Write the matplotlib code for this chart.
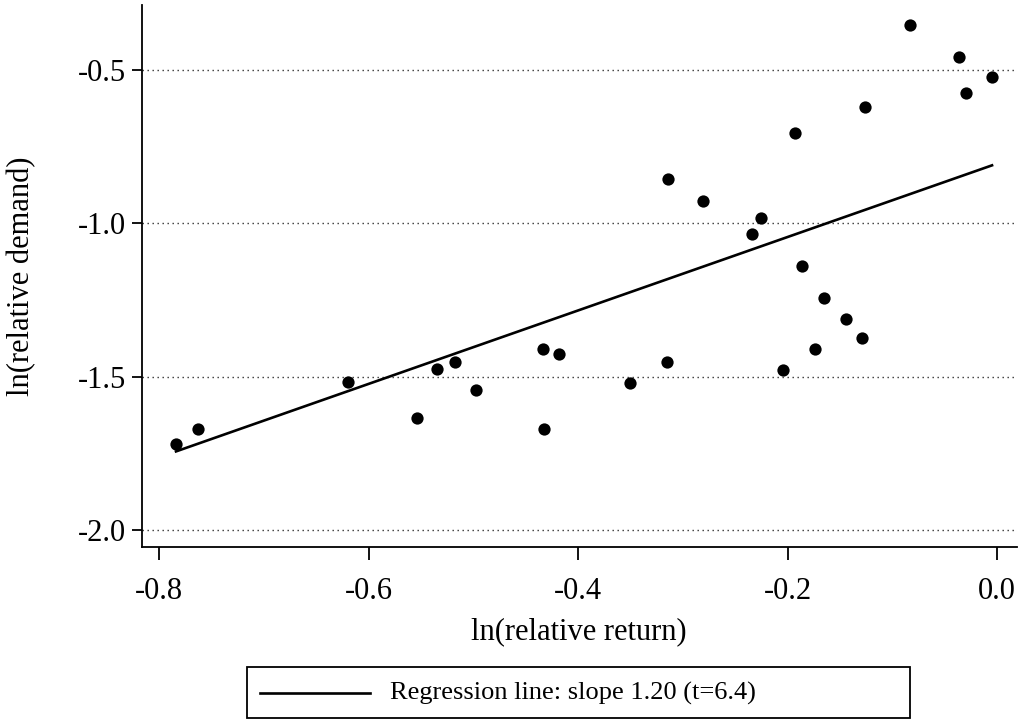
import numpy as np
import matplotlib
matplotlib.use('Agg')
import matplotlib.pyplot as plt
from matplotlib.lines import Line2D
from matplotlib.patches import Rectangle

# ln(relative return) vs ln(relative demand)
rel_return = [-0.784, -0.763, -0.620, -0.554, -0.535, -0.518, -0.498, -0.434,
              -0.418, -0.433, -0.351, -0.315, -0.314, -0.281, -0.234, -0.226,
              -0.205, -0.193, -0.186, -0.174, -0.165, -0.144, -0.129, -0.126,
              -0.083, -0.037, -0.030, -0.005]
rel_demand = [-1.719, -1.670, -1.517, -1.636, -1.474, -1.454, -1.545, -1.409,
              -1.428, -1.672, -1.522, -1.454, -0.856, -0.927, -1.036, -0.982,
              -1.480, -0.705, -1.139, -1.409, -1.243, -1.313, -1.375, -0.620,
              -0.352, -0.457, -0.574, -0.522]
# regression line as drawn in the chart (slope from the legend)
reg_slope = 1.20
reg_intercept = -0.804
x_ticks = [-0.8, -0.6, -0.4, -0.2, 0.0]
y_ticks = [-2.0, -1.5, -1.0, -0.5]
legend_label = 'Regression line: slope 1.20 (t=6.4)'

plt.rcParams['font.family'] = ['Liberation Serif', 'DejaVu Serif']

x = np.array(rel_return)
y = np.array(rel_demand)
xs = np.array([x.min(), x.max()])

fig = plt.figure(figsize=(10.19, 7.22), dpi=100)
ax = fig.add_axes([0.139, 0.2417, 0.8587, 0.7513])

for v in y_ticks:
    ax.axhline(v, color='#333333', linestyle=(0, (1, 2.6)), linewidth=1.0, zorder=1)

ax.scatter(x, y, s=78, color='black', zorder=3, linewidths=0)
ax.plot(xs, reg_intercept + reg_slope * xs, color='black', linewidth=1.9, zorder=2)

ax.set_xlim(-0.8168, 0.0185)
ax.set_ylim(-2.0587, -0.2863)
ax.set_xticks(x_ticks)
ax.set_xticklabels([f'{v:.1f}' for v in x_ticks])
ax.set_yticks(y_ticks)
ax.set_yticklabels([f'{v:.1f}' for v in y_ticks])

for side in ['top', 'right']:
    ax.spines[side].set_visible(False)
for side in ['left', 'bottom']:
    ax.spines[side].set_linewidth(1.3)

ax.tick_params(axis='x', direction='out', length=9, width=1.3, pad=12, labelsize=22)
ax.tick_params(axis='y', direction='out', length=7, width=1.3, pad=4, labelsize=22)

ax.set_xlabel('ln(relative return)', fontsize=22)
ax.set_ylabel('ln(relative demand)', fontsize=22)
ax.xaxis.set_label_coords(0.5, -0.128)
ax.yaxis.set_label_coords(-0.12, 0.5)

# legend box under the plot
fig.patches.append(Rectangle((247 / 1019, 1 - 718 / 722), 663 / 1019, 51 / 722,
                             transform=fig.transFigure, fill=False,
                             edgecolor='black', linewidth=1.3))
fig.lines.append(Line2D([260 / 1019, 370 / 1019], [1 - 693 / 722, 1 - 693 / 722],
                        transform=fig.transFigure, color='black', linewidth=1.9))
fig.text(390 / 1019, 1 - 693 / 722, legend_label, fontsize=19,
         va='center', ha='left')

fig.savefig('out.png', dpi=100)
